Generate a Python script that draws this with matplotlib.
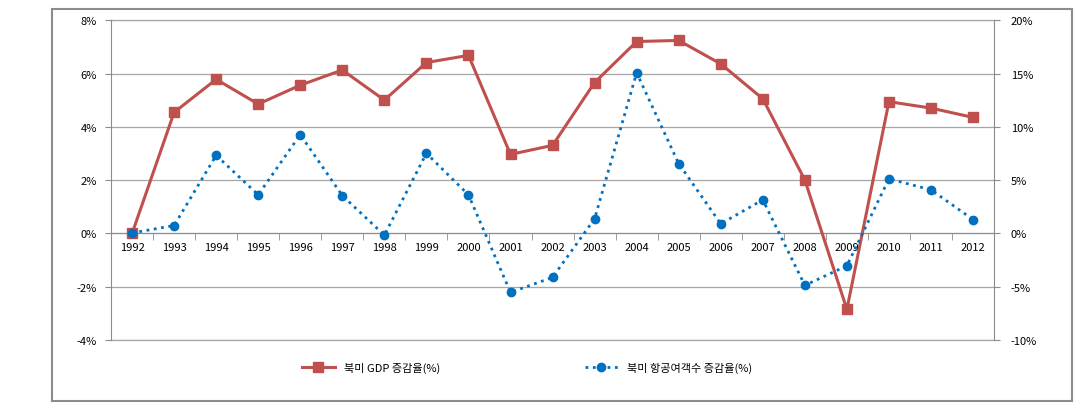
import numpy as np
import matplotlib
matplotlib.use("Agg")
import matplotlib.pyplot as plt
from matplotlib.ticker import FuncFormatter, MultipleLocator
from matplotlib.patches import Rectangle

plt.rcParams['font.family'] = ['Noto Sans CJK KR', 'DejaVu Sans']

years = [str(y) for y in range(1992, 2013)]
gdp = [0.0, 4.55, 5.79, 4.86, 5.57, 6.14, 5.01, 6.42, 6.69, 2.97, 3.31,
       5.67, 7.21, 7.25, 6.37, 5.06, 2.01, -2.85, 4.95, 4.71, 4.36]
passengers = [0.05, 0.75, 7.34, 3.63, 9.28, 3.56, -0.16, 7.53, 3.63, -5.53, -4.12,
              1.38, 15.09, 6.56, 0.91, 3.16, -4.87, -3.03, 5.13, 4.10, 1.31]
gdp_label = "북미 GDP 증감율(%)"
pax_label = "북미 항공여객수 증감율(%)"

red = "#C0504D"
blue = "#0070C0"
grey = "#8c8c8c"

fig = plt.figure(figsize=(10.75, 4.10), dpi=100)
fig.patches.append(Rectangle((0.0484, 0.0195), 0.9488, 0.9561, transform=fig.transFigure,
                             fill=False, edgecolor=grey, linewidth=1.5))

ax = fig.add_axes([0.1033, 0.1683, 0.8214, 0.7793])
x = np.arange(len(years))

ax.set_xlim(-0.5, len(years) - 0.5)
ax.set_ylim(-4, 8)
ax.yaxis.set_major_locator(MultipleLocator(2))
ax.yaxis.set_major_formatter(FuncFormatter(lambda v, p: f"{v:.0f}%"))
ax.grid(axis='y', color='#a6a6a6', linewidth=0.9)
ax.set_axisbelow(True)
# gridlines at the top and bottom edges
ax.axhline(-4, color='#a6a6a6', linewidth=0.9, clip_on=False, zorder=0.5)
ax.axhline(8, color='#a6a6a6', linewidth=0.9, clip_on=False, zorder=0.5)

ax.spines['top'].set_visible(False)
ax.spines['right'].set_visible(False)
ax.spines['left'].set_color(grey)
ax.spines['bottom'].set_position(('data', 0))
ax.spines['bottom'].set_color(grey)

ax.set_xticks(x)
ax.set_xticklabels(years)
ax.set_xticks(np.arange(-0.5, len(years)), minor=True)
ax.tick_params(axis='x', which='major', length=0, pad=6, labelsize=8)
ax.tick_params(axis='x', which='minor', length=5, color=grey)
ax.tick_params(axis='y', length=4, color=grey, labelsize=8, pad=6)

l1, = ax.plot(x, gdp, color=red, linewidth=2.2, marker='s', markersize=7,
              label=gdp_label, zorder=3)

ax2 = ax.twinx()
ax2.set_ylim(-10, 20)
ax2.yaxis.set_major_locator(MultipleLocator(5))
ax2.yaxis.set_major_formatter(FuncFormatter(lambda v, p: f"{v:.0f}%"))
for s in ['top', 'left', 'bottom']:
    ax2.spines[s].set_visible(False)
ax2.spines['right'].set_color(grey)
ax2.tick_params(axis='y', length=4, color=grey, labelsize=8, pad=8)

l2, = ax2.plot(x, passengers, color=blue, linewidth=2, linestyle=':', marker='o',
               markersize=6, label=pax_label, zorder=3)

fig.legend(handles=[l1, l2], loc='center', bbox_to_anchor=(0.49, 0.102), ncol=2,
           frameon=False, fontsize=8, handlelength=3, columnspacing=13)

fig.savefig("out.png", dpi=100)
